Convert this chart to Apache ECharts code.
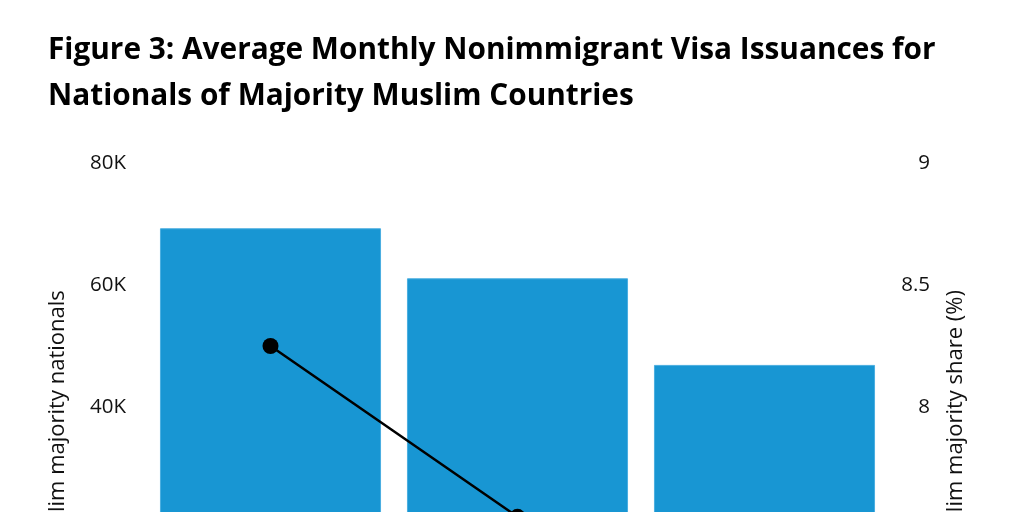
<!DOCTYPE html>
<html>
<head>
<meta charset="utf-8">
<script src="https://cdn.jsdelivr.net/npm/echarts@6/dist/echarts.min.js"></script>
<style>
html,body{margin:0;padding:0;overflow:hidden;background:#fff;}
#c{width:1024px;height:800px;}
</style>
</head>
<body>
<div id="c"></div>
<script>
const categories = ["FY 2016", "Jan–Sep 2017", "Oct 2017–2018"];
const issuances = [69300, 61100, 46900];
const sharePct = [8.25, 7.55, 7.3];
const leftTicks = { min: 0, max: 80000, interval: 20000 };
const rightTicks = { min: 7, max: 9, interval: 0.5 };

const chart = echarts.init(document.getElementById('c'));
const font = '"Open Sans", sans-serif';
chart.setOption({
  animation: false,
  backgroundColor: '#ffffff',
  textStyle: { fontFamily: font },
  title: {
    text: 'Figure 3: Average Monthly Nonimmigrant Visa Issuances for\nNationals of Majority Muslim Countries',
    left: 43, top: 23,
    textStyle: { fontFamily: font, fontSize: 29.8, fontWeight: 'bold', color: '#000', lineHeight: 46 }
  },
  grid: { left: 147, right: 136, top: 163, bottom: 149, containLabel: false },
  xAxis: {
    type: 'category', data: categories,
    axisTick: { show: false }, axisLine: { show: false },
    axisLabel: { fontSize: 20, color: '#111' }
  },
  yAxis: [
    {
      type: 'value', min: leftTicks.min, max: leftTicks.max, interval: leftTicks.interval,
      name: 'Muslim majority nationals', nameLocation: 'middle', nameGap: 78,
      nameTextStyle: { fontSize: 22, color: '#111', padding: [0, 32, 0, 0] },
      splitLine: { show: false }, axisLine: { show: false }, axisTick: { show: false },
      axisLabel: { fontSize: 20.5, color: '#111', margin: 21, formatter: v => (v / 1000) + 'K' }
    },
    {
      type: 'value', min: rightTicks.min, max: rightTicks.max, interval: rightTicks.interval,
      name: 'Muslim majority share (%)', nameLocation: 'middle', nameGap: 57,
      nameTextStyle: { fontSize: 22, color: '#111', padding: [0, 32, 0, 0] },
      splitLine: { show: false }, axisLine: { show: false }, axisTick: { show: false },
      axisLabel: { fontSize: 20.5, color: '#111', margin: 42, align: 'right' }
    }
  ],
  series: [
    {
      name: 'Muslim majority nationals', type: 'bar', yAxisIndex: 0, data: issuances,
      barCategoryGap: '10.5%',
      itemStyle: { color: '#1896d3', borderColor: '#4aaee0', borderWidth: 1 }
    },
    {
      name: 'Muslim majority share (%)', type: 'line', yAxisIndex: 1, data: sharePct,
      symbol: 'circle', symbolSize: 16,
      lineStyle: { color: '#000', width: 2.5 },
      itemStyle: { color: '#000' }
    }
  ]
});
</script>
</body>
</html>
